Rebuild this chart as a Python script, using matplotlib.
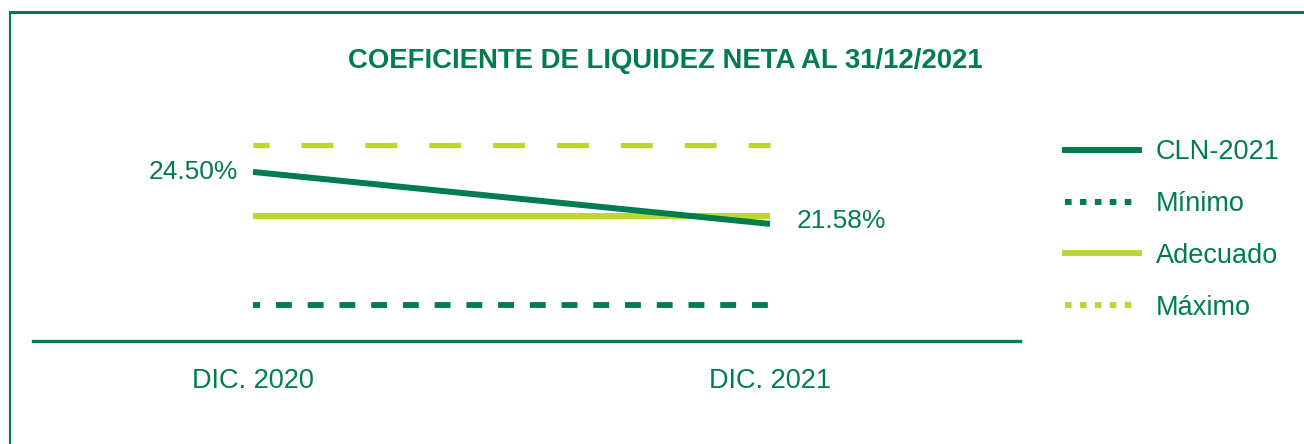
import matplotlib.pyplot as plt
from matplotlib.lines import Line2D

plt.rcParams['font.family'] = ['Liberation Sans', 'DejaVu Sans']

periodos = ['DIC. 2020', 'DIC. 2021']
cln = [24.50, 21.58]
minimo = [17, 17]
adecuado = [22, 22]
maximo = [26, 26]
etiquetas = ['24.50%', '21.58%']

verde = '#007c4f'
lima = '#bfd631'

fig = plt.figure(figsize=(13.04, 4.44), dpi=100)
ax = fig.add_axes([0.0253, 0.232, 0.7569, 0.521])

x = list(range(len(periodos)))
ax.plot(x, maximo, color=lima, lw=3.8, ls=(3.0, (6.05, 6.05)), solid_capstyle='butt')
ax.plot(x, minimo, color=verde, lw=4.2, ls=(1.5, (2.72, 2.72)), solid_capstyle='butt')
ax.plot(x, adecuado, color=lima, lw=4.3, solid_capstyle='butt')
ax.plot(x, cln, color=verde, lw=4.3, solid_capstyle='butt')

ax.annotate(etiquetas[0], (x[0], cln[0]), xytext=(-11, 0), textcoords='offset points',
            ha='right', va='center', fontsize=19, color=verde)
ax.annotate(etiquetas[1], (x[1], cln[1]), xytext=(19, 2), textcoords='offset points',
            ha='left', va='center', fontsize=19, color=verde)

ax.set_xlim(-0.4255, 1.4836)
ax.set_ylim(15, 28)
ax.set_xticks(x)
ax.set_xticklabels(periodos, fontsize=19.5, color=verde)
ax.set_yticks([])
ax.tick_params(axis='x', length=0, pad=19.5)
for s in ['top', 'right', 'left']:
    ax.spines[s].set_visible(False)
ax.spines['bottom'].set_color(verde)
ax.spines['bottom'].set_linewidth(2.4)

handles = [
    Line2D([], [], color=verde, lw=4.3),
    Line2D([], [], color=verde, lw=4.3, dashes=(1.1, 1.4)),
    Line2D([], [], color=lima, lw=4.3),
    Line2D([], [], color=lima, lw=4.3, dashes=(1.1, 1.4)),
]
leg = fig.legend(handles, ['CLN-2021', 'Mínimo', 'Adecuado', 'Máximo'],
                 loc='upper left', bbox_to_anchor=(0.8167, 0.686), frameon=False,
                 fontsize=19.5, handlelength=2.75, handletextpad=0.6,
                 labelspacing=0.95, borderaxespad=0, borderpad=0)
for t in leg.get_texts():
    t.set_color(verde)

fig.text(0.51, 0.863, 'COEFICIENTE DE LIQUIDEZ NETA AL 31/12/2021', ha='center',
         va='center', fontsize=19.8, fontweight='bold', color=verde)

# marco superior e izquierdo
fig.add_artist(Line2D([10 / 1304, 1], [1 - 12 / 444, 1 - 12 / 444], color=verde, lw=2.2))
fig.add_artist(Line2D([10 / 1304, 10 / 1304], [0, 1 - 12 / 444], color=verde, lw=1.5))

fig.savefig('out.png', dpi=100)
